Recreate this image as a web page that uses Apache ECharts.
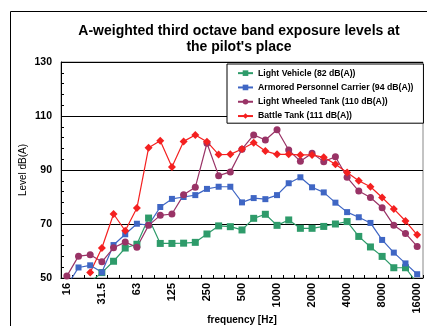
<!DOCTYPE html>
<html>
<head>
<meta charset="utf-8">
<script src="https://cdn.jsdelivr.net/npm/echarts@6/dist/echarts.min.js"></script>
<style>
html,body{margin:0;padding:0;background:#fff;}
#chart{width:427px;height:326px;}
</style>
</head>
<body>
<div id="chart"></div>
<script>
var categories = ['16','20','25','31.5','40','50','63','80','100','125','160','200','250','315','400','500','630','800','1000','1250','1600','2000','2500','3150','4000','5000','6300','8000','10000','12500','16000'];
var seriesNames = ['Light Vehicle (82 dB(A))','Armored Personnel Carrier (94 dB(A))','Light Wheeled Tank (110 dB(A))','Battle Tank (111 dB(A))'];
var lightVehicle = [null,null,48.5,52.0,56.2,61.1,62.5,72.2,62.8,62.8,62.9,63.2,66.3,69.3,69.0,67.8,72.1,73.6,69.5,71.5,68.4,68.4,69.1,70.0,70.9,65.4,61.5,58.0,53.8,53.8,48.0];
var armoredCarrier = [47.0,53.9,54.7,52.1,62.2,66.2,70.1,69.6,76.3,79.3,80.0,80.7,83.0,83.8,83.8,78.0,79.6,79.2,80.7,85.1,87.3,83.6,81.7,77.9,74.4,72.5,70.4,64.1,59.4,55.4,51.4];
var lightWheeledTank = [50.7,58.1,58.6,56.0,61.2,63.3,61.4,69.5,73.2,73.7,80.8,83.6,99.9,87.9,89.3,97.7,103.0,101.1,104.9,97.4,93.2,96.2,93.1,94.9,87.3,82.2,79.8,76.0,69.5,66.5,61.7];
var battleTank = [null,null,52.0,61.1,73.7,67.5,75.9,98.2,100.8,91.1,100.6,103.0,100.5,95.7,95.8,97.8,100.1,97.0,95.8,95.8,95.6,95.6,94.7,92.1,89.1,86.0,83.8,79.8,75.6,71.1,66.0];
var yTicks = {min: 50, max: 130, interval: 20};

var FONT = '"Liberation Sans", Arial, sans-serif';
var chart = echarts.init(document.getElementById('chart'), null, {renderer: 'canvas'});

function mk(name, data, color, symbol, size) {
  return {
    name: name, type: 'line', data: data, clip: true,
    symbol: symbol, symbolSize: size, showSymbol: true, showAllSymbol: true,
    lineStyle: {color: color, width: 1.2},
    itemStyle: {color: color, borderColor: color, borderWidth: 0},
    emphasis: {disabled: true},
    animation: false
  };
}

chart.setOption({
  animation: false,
  title: {
    text: 'A-weighted third octave band exposure levels at\nthe pilot\'s place',
    left: 239, top: 23, textAlign: 'center', padding: 0,
    textStyle: {fontFamily: FONT, fontSize: 14, fontWeight: 'bold', color: '#000', lineHeight: 16}
  },
  graphic: [{
    type: 'rect', silent: true, z: -1,
    shape: {x: 10.5, y: 11.5, width: 440, height: 340},
    style: {fill: 'none', stroke: '#000', lineWidth: 1}
  }],
  legend: {
    orient: 'vertical', left: 227, top: 64,
    padding: [2, 10, 0, 10],
    itemGap: 0, itemWidth: 15, itemHeight: 7,
    backgroundColor: '#fff', borderColor: '#000', borderWidth: 1,
    textStyle: {fontFamily: FONT, fontSize: 8.7, fontWeight: 'bold', color: '#000', lineHeight: 14.3},
    data: seriesNames
  },
  grid: {left: 61, right: 4, top: 62, bottom: 48, show: true, borderColor: '#888', borderWidth: 1,
         containLabel: false, outerBoundsMode: 'none'},
  xAxis: {
    type: 'category', data: categories, boundaryGap: true,
    name: 'frequency [Hz]', nameLocation: 'middle', nameGap: 37.5, nameMoveOverlap: false,
    nameTextStyle: {fontFamily: FONT, fontSize: 10, fontWeight: 'bold', color: '#000'},
    axisLine: {lineStyle: {color: '#000', width: 1}},
    axisTick: {show: true, inside: true, length: 3, interval: 0, lineStyle: {color: '#000'}},
    axisLabel: {interval: 2, rotate: 90, margin: 5, fontFamily: FONT, fontSize: 11, fontWeight: 'bold', color: '#000'},
    splitLine: {show: false}
  },
  yAxis: {
    type: 'value', min: yTicks.min, max: yTicks.max, interval: yTicks.interval,
    name: 'Level dB(A)', nameLocation: 'middle', nameRotate: 90, nameGap: 33, nameMoveOverlap: false,
    nameTextStyle: {fontFamily: FONT, fontSize: 10, color: '#000'},
    axisLine: {show: true, lineStyle: {color: '#000', width: 1}},
    axisTick: {show: true, inside: true, length: 4, lineStyle: {color: '#000'}},
    minorTick: {show: true, splitNumber: 5, length: 3, lineStyle: {color: '#000'}},
    axisLabel: {margin: 9, fontFamily: FONT, fontSize: 10.5, fontWeight: 'bold', color: '#000'},
    splitLine: {show: true, lineStyle: {color: '#000', width: 1}}
  },
  series: [
    mk(seriesNames[0], lightVehicle, '#2E9B6A', 'rect', 7),
    mk(seriesNames[1], armoredCarrier, '#3F66C4', 'rect', 6),
    mk(seriesNames[2], lightWheeledTank, '#993366', 'circle', 7),
    mk(seriesNames[3], battleTank, '#F42020', 'diamond', 8)
  ]
});
</script>
</body>
</html>
